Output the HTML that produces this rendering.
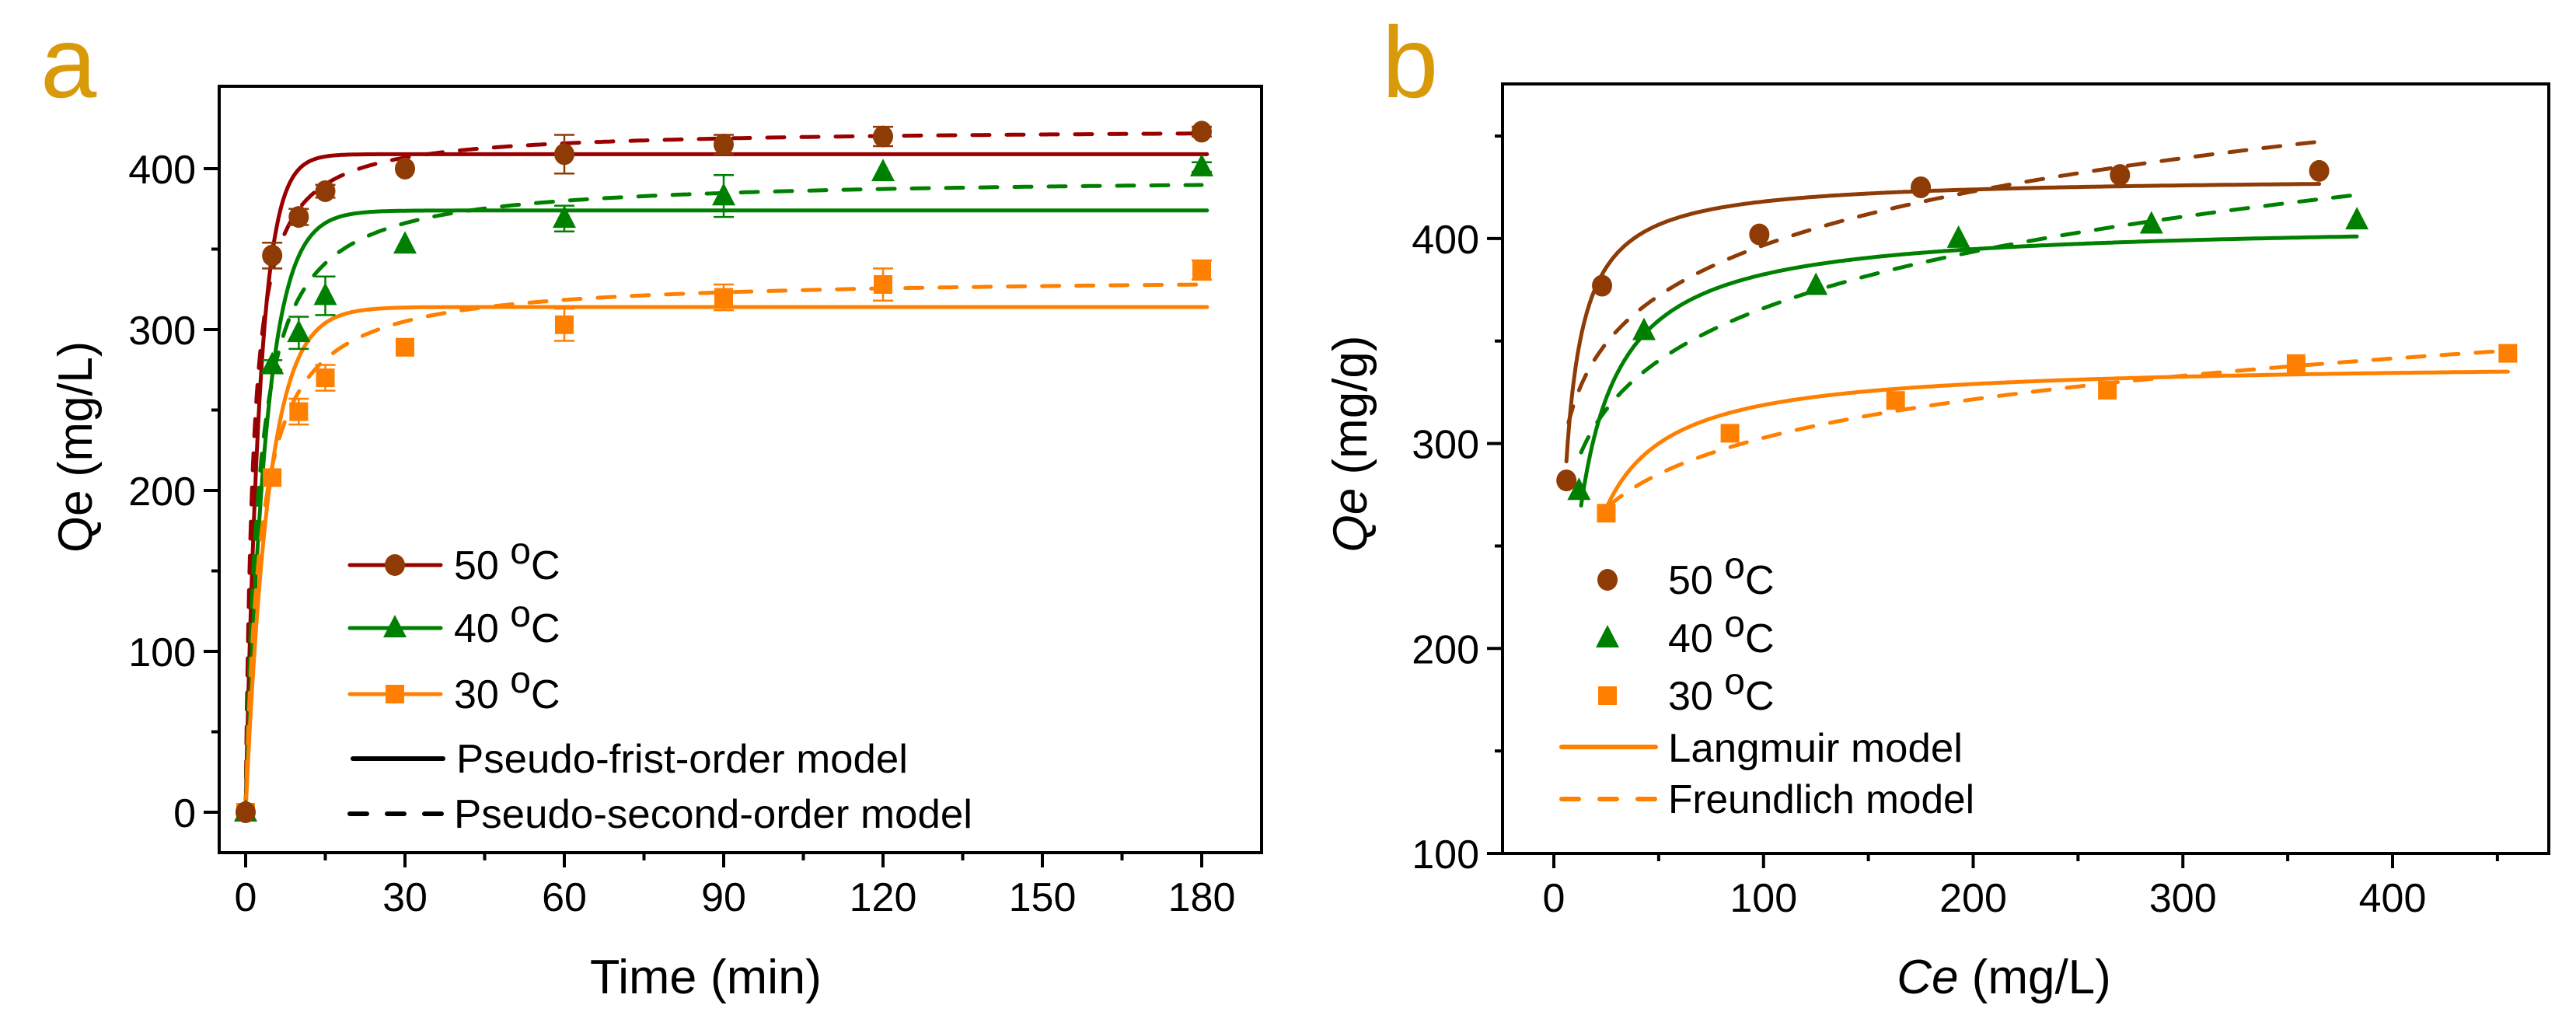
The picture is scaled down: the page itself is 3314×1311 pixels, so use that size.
<!DOCTYPE html>
<html><head><meta charset="utf-8"><style>
html,body{margin:0;padding:0;background:#fff;}
svg{display:block;font-family:"Liberation Sans",Arial,sans-serif;}
</style></head><body>
<svg id="fig" width="3314" height="1311" viewBox="0 0 3314 1311" xmlns="http://www.w3.org/2000/svg">
<text x="52" y="125" font-size="130" fill="#D99A0A">a</text>
<text x="1778" y="125" font-size="130" fill="#D99A0A">b</text>
<g id="pa"></g>
<g id="pb"></g>
</svg>
<script>
// ---------- Panel a data ----------
const timesA = [0, 5, 10, 15, 30, 60, 90, 120, 180];
const q50A = [0, 346, 370, 386, 400, 409, 415, 420, 423];
const q40A = [0, 278, 298, 321, 353, 369, 383, 398, 401];
const q30A = [0, 208, 249, 270, 289, 303, 320, 328, 337];
const err50A = [0, 8, 5, 4, 0, 12, 6, 6, 3];
const err40A = [0, 3, 10, 12, 0, 8, 13, 0, 3];
const err30A = [0, 0, 8, 8, 0, 10, 8, 10, 6];
const pfoQe = [409, 374, 314];
const pfoK = [0.377, 0.258, 0.23];
const psoQe = [425, 395, 333];
const psoK = [0.00176, 0.00107, 0.001094];
const xTicksA = [0, 30, 60, 90, 120, 150, 180];
const yTicksA = [0, 100, 200, 300, 400];
// ---------- Panel b data ----------
const ce50 = [6, 23, 98, 175, 270, 365];
const qe50 = [282, 377, 402, 425, 431, 433];
const ce40 = [12, 43, 125, 193, 285, 383];
const qe40 = [277, 355, 377, 400, 407, 409];
const ce30 = [25, 84, 163, 264, 354, 455];
const qe30 = [266, 305, 321, 326, 339, 344];
const langQm = [430, 408, 340];
const langK = [0.35, 0.15, 0.15];
const langStart = [6, 13, 25];
const freKF = [259, 226, 203];
const freN = [0.0926, 0.1047, 0.0868];
const xTicksB = [0, 100, 200, 300, 400];
const yTicksB = [100, 200, 300, 400];

const NS = "http://www.w3.org/2000/svg";
function mk(parent, tag, attrs) {
  const e = document.createElementNS(NS, tag);
  for (const k in attrs) e.setAttribute(k, attrs[k]);
  parent.appendChild(e);
  return e;
}
const C = {red:"#990000", brown:"#8E3B05", green:"#008000", orange:"#FF8000"};

const xA = v => 316 + (v - 0) * (1546 - 316) / 180;
const yA = v => 1045 - v * 2.07;
const xB = v => 1999 + v * 2.6975;
const yB = v => 1098 - (v - 100) * 2.637;

function frame(g, L, T, R, B) {
  const r = mk(g, "rect", {x:L, y:T, width:R-L, height:B-T, fill:"none", stroke:"#000", "stroke-width":4});
  
  
}
function axes(g, L, B, xs, ys, xt, yt, xminor, yminor) {
  xt.forEach(v => {
    const l = mk(g, "line", {x1:xs(v), x2:xs(v), y1:B, y2:B+19, stroke:"#000", "stroke-width":4});
    
    
    const t = mk(g, "text", {x:xs(v), y:B+75, "font-size":52, "text-anchor":"middle"});
    t.textContent = v;
    
    
  });
  xminor.forEach(v => {
    const l = mk(g, "line", {x1:xs(v), x2:xs(v), y1:B, y2:B+10, stroke:"#000", "stroke-width":4});
    
    
  });
  yt.forEach(v => {
    const l = mk(g, "line", {x1:L-20, x2:L, y1:ys(v), y2:ys(v), stroke:"#000", "stroke-width":4});
    
    
    const t = mk(g, "text", {x:L-30, y:ys(v)+19, "font-size":52, "text-anchor":"end"});
    t.textContent = v;
    
    
  });
  yminor.forEach(v => {
    const l = mk(g, "line", {x1:L-10, x2:L, y1:ys(v), y2:ys(v), stroke:"#000", "stroke-width":4});
    
    
  });
}
function curve(g, xs, ys, x0, x1, f, color, dashed, name) {
  let d = "";
  const n = 400;
  for (let i = 0; i <= n; i++) {
    const t = x0 + (x1 - x0) * Math.pow(i / n, 2);
    d += (i ? "L" : "M") + xs(t).toFixed(1) + "," + ys(f(t)).toFixed(1);
  }
  const p = mk(g, "path", {d:d, fill:"none", stroke:color, "stroke-width":5, "stroke-linecap":"round"});
  if (dashed) p.setAttribute("stroke-dasharray", "22 22");
  
  
}
function marker(g, type, cx, cy, color, name) {
  let m;
  if (type === "circle") m = mk(g, "ellipse", {cx:cx, cy:cy, rx:13, ry:14, fill:color});
  else if (type === "tri") m = mk(g, "polygon", {points:`${cx},${cy-17} ${cx-15},${cy+12} ${cx+15},${cy+12}`, fill:color});
  else m = mk(g, "rect", {x:cx-12, y:cy-12, width:24, height:24, fill:color});
  
  
}
function errbar(g, cx, v, e, ys, color) {
  if (!e) return;
  const p = mk(g, "path", {d:`M${cx},${ys(v+e)}V${ys(v-e)}M${cx-13},${ys(v+e)}h26M${cx-13},${ys(v-e)}h26`, stroke:color, "stroke-width":2.5, fill:"none"});
  
  
}
function degText(g, x, y, num, name) {
  const t = mk(g, "text", {x:x, y:y, "font-size":52});
  
  
  const a = mk(t, "tspan", {}); a.textContent = num + " ";
  const b = mk(t, "tspan", {dy:-20, "font-size":48}); b.textContent = "o";
  const c = mk(t, "tspan", {dy:20}); c.textContent = "C";
}

// ================= Panel a =================
const ga = document.getElementById("pa");
frame(ga, 282, 111, 1623, 1097);
axes(ga, 282, 1097, xA, yA, xTicksA, yTicksA, [15,45,75,105,135,165], [50,150,250,350]);
const cols = [C.red, C.green, C.orange];
[0,1,2].forEach(i => {
  curve(ga, xA, yA, 0, 181, t => pfoQe[i]*(1-Math.exp(-pfoK[i]*t)), cols[i], false, 'pfo-fit-curve');
});
[0,1,2].forEach(i => {
  curve(ga, xA, yA, 0, 180, t => psoQe[i]*psoQe[i]*psoK[i]*t/(1+psoQe[i]*psoK[i]*t), cols[i], true, 'pso-fit-curve');
});
const seriesA = [[q30A, err30A, "sq", C.orange, "point-30c"], [q40A, err40A, "tri", C.green, "point-40c"], [q50A, err50A, "circle", C.brown, "point-50c"]];
seriesA.forEach(s => {
  timesA.forEach((t, j) => {
    errbar(ga, xA(t), s[0][j], s[1][j], yA, s[3]);
    marker(ga, s[2], xA(t), yA(s[0][j]), s[3], s[4]);
  });
});
const legA = [[727, C.red, "circle", C.brown, "50"], [808, C.green, "tri", C.green, "40"], [893, C.orange, "sq", C.orange, "30"]];
legA.forEach(l => {
  const ln = mk(ga, "line", {x1:450, x2:567, y1:l[0], y2:l[0], stroke:l[1], "stroke-width":5, "stroke-linecap":"round"});
  
  
  marker(ga, l[2], 508, l[0], l[3], 'legend-marker');
  degText(ga, 584, l[0]+18, l[4], 'legend-entry');
});
let l1 = mk(ga, "line", {x1:454, x2:570, y1:976, y2:976, stroke:"#000", "stroke-width":6, "stroke-linecap":"round"});


let t1 = mk(ga, "text", {x:587, y:994, "font-size":52, textLength:581, lengthAdjust:"spacingAndGlyphs"});
t1.textContent = "Pseudo-frist-order model";


let l2 = mk(ga, "line", {x1:450, x2:570, y1:1047, y2:1047, stroke:"#000", "stroke-width":6, "stroke-linecap":"round", "stroke-dasharray":"22 26"});


let t2 = mk(ga, "text", {x:584, y:1065, "font-size":52, textLength:667, lengthAdjust:"spacingAndGlyphs"});
t2.textContent = "Pseudo-second-order model";


let xta = mk(ga, "text", {x:908, y:1278, "font-size":62, "text-anchor":"middle", textLength:298, lengthAdjust:"spacingAndGlyphs"});
xta.textContent = "Time (min)";


let yta = mk(ga, "text", {x:0, y:0, "font-size":62, "text-anchor":"middle", transform:"translate(118,575) rotate(-90)", textLength:272, lengthAdjust:"spacingAndGlyphs"});
yta.textContent = "Qe (mg/L)";



// ================= Panel b =================
const gb = document.getElementById("pb");
frame(gb, 1933, 108, 3279, 1098);
axes(gb, 1933, 1098, xB, yB, xTicksB, yTicksB, [50,150,250,350,450], [150,250,350,450]);
const ceS = [ce50, ce40, ce30], qeS = [qe50, qe40, qe30];
const bcols = [C.brown, C.green, C.orange];
[0,1,2].forEach(i => {
  const lo = ceS[i][0], hi = ceS[i][ceS[i].length-1];
  curve(gb, xB, yB, langStart[i], hi, c => langQm[i]*langK[i]*c/(1+langK[i]*c), bcols[i], false, 'langmuir-fit-curve');
  curve(gb, xB, yB, lo + 1, hi, c => freKF[i]*Math.pow(c, freN[i]), bcols[i], true, 'freundlich-fit-curve');
});
const mt = ["circle", "tri", "sq"], mn = ["point-50c", "point-40c", "point-30c"];
[2,1,0].forEach(i => {
  ceS[i].forEach((c, j) => marker(gb, mt[i], xB(c), yB(qeS[i][j]), bcols[i], mn[i]));
});
const legB = [746, 821, 895];
["50","40","30"].forEach((n, i) => {
  marker(gb, mt[i], 2068, legB[i], bcols[i], 'legend-marker');
  degText(gb, 2146, legB[i]+18, n, 'legend-entry');
});
let l3 = mk(gb, "line", {x1:2009, x2:2130, y1:961, y2:961, stroke:C.orange, "stroke-width":6, "stroke-linecap":"round"});


let t3 = mk(gb, "text", {x:2146, y:980, "font-size":52, textLength:379, lengthAdjust:"spacingAndGlyphs"});
t3.textContent = "Langmuir model";


let l4 = mk(gb, "line", {x1:2009, x2:2130, y1:1028, y2:1028, stroke:C.orange, "stroke-width":6, "stroke-linecap":"round", "stroke-dasharray":"22 27"});


let t4 = mk(gb, "text", {x:2146, y:1046, "font-size":52, textLength:394, lengthAdjust:"spacingAndGlyphs"});
t4.textContent = "Freundlich model";


let xtb = mk(gb, "text", {x:2578, y:1278, "font-size":62, "text-anchor":"middle"});


let xb1 = mk(xtb, "tspan", {"font-style":"italic"}); xb1.textContent = "Ce";
let xb2 = mk(xtb, "tspan", {}); xb2.textContent = " (mg/L)";
let ytb = mk(gb, "text", {x:0, y:0, "font-size":62, "text-anchor":"middle", transform:"translate(1758,571) rotate(-90)"});


let yb1 = mk(ytb, "tspan", {"font-style":"italic"}); yb1.textContent = "Qe";
let yb2 = mk(ytb, "tspan", {}); yb2.textContent = " (mg/g)";
</script>
</body></html>
